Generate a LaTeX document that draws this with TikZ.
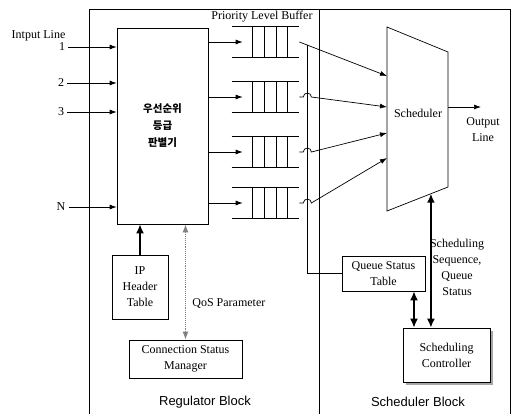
\documentclass[tikz,border=0pt]{standalone}
\usepackage{fontspec}
\setmainfont{Liberation Serif}
\newfontfamily\krfont{Noto Sans CJK KR}
\newfontfamily\blkfont{Liberation Sans}
\usetikzlibrary{arrows.meta,positioning,calc,shadows}

\tikzset{
  box/.style={draw, rectangle, fill=white, align=center, inner sep=1pt},
  flow/.style={-{Latex[length=7pt,width=5pt]}},
  heavyline/.style={line width=1.6pt},
  heavyarrow/.style={heavyline, {Latex[length=9pt,width=8pt]}-{Latex[length=9pt,width=8pt]}},
  qosarrow/.style={gray, densely dotted, line width=1.1pt, {Latex[length=8pt,width=6pt]}-{Latex[length=8pt,width=6pt]}},
  buffer/.style={minimum width=67pt, minimum height=30pt, inner sep=0pt},
  lbl/.style={inner sep=3pt, align=center}
}

\begin{document}
\begin{tikzpicture}[x=1pt, y=-1pt, font=\fontsize{12}{16}\selectfont, line width=0.7pt]
  \useasboundingbox (0,0) rectangle (514,414);

  % block frames
  \draw (89,414) |- (510,9) -- (510,414);
  \draw (319,9) -- (319,414);
  \node[font=\blkfont\fontsize{13}{15}\selectfont] (regblk) at (205,402) {Regulator Block};
  \node[font=\blkfont\fontsize{13}{15}\selectfont] (schblk) at (418,402) {Scheduler Block};

  % regulator block
  \node[box, minimum width=91pt, minimum height=196pt, font=\krfont\bfseries\fontsize{10.5}{17}\selectfont]
    (cls) at (162.5,126) {우선순위\\등급\\판별기};

  \node[lbl] (inlbl) at (38.5,36) {Intput Line};
  \node[lbl] (in1) at (62,47) {1};
  \node[lbl] (in2) at (61,83) {2};
  \node[lbl] (in3) at (61,112) {3};
  \node[lbl] (inN) at (61,207) {N};
  \foreach \n in {in1,in2,in3,inN}
    \draw[flow] (\n.east) -- (\n.east -| cls.west);

  \node[box, minimum width=56pt, minimum height=64pt] (iph) at (140,287) {IP\\Header\\Table};
  \node[box, minimum width=113pt, minimum height=38pt] (csm) at (185.5,359) {Connection Status\\Manager};
  \draw[heavyline, -{Latex[length=9pt,width=8pt]}] (iph) -- (iph |- cls.south);
  \draw[qosarrow] (csm.north |- cls.south) -- (csm.north);
  \node[anchor=west, inner sep=0pt] (qos) at (192,303) {QoS Parameter};

  % priority buffers
  \node[lbl] (buflbl) at (262,17) {Priority Level Buffer};
  \foreach \i/\y in {1/42,2/97,3/152,4/203} {
    \node[buffer] (buf\i) at (265.5,\y) {};
    \draw (buf\i.north west) -- (buf\i.north east) (buf\i.south west) -- (buf\i.south east);
    \foreach \vx in {21,33,45,56}
      \draw ([xshift=\vx pt]buf\i.north west) -- ([xshift=\vx pt]buf\i.south west);
    \draw[flow] (cls.east |- buf\i) -- ([xshift=11pt]buf\i.west);
  }

  % scheduler
  \coordinate (s-tl) at (387,27);
  \coordinate (s-tr) at (448,52);
  \coordinate (s-br) at (448,187);
  \coordinate (s-bl) at (387,211);
  \draw (s-tl) -- (s-tr) -- (s-br) -- (s-bl) -- cycle;
  \node (sched) at (418,113) {Scheduler};
  \coordinate (sin1) at (387,76);
  \coordinate (sin2) at (387,107);
  \coordinate (sin3) at (387,133);
  \coordinate (sin4) at (387,158);
  \coordinate (sout) at (448,107);
  \node[lbl] (outl) at (483,130) {Output\\Line};
  \draw[flow] (sout) -- ++(33,0);

  \draw[flow] (buf1.east) -- (sin1);
  \foreach \i in {2,3,4}
    \draw[flow] (buf\i.east) -- ++(4,0) arc[start angle=180, end angle=360, radius=4] -- (sin\i);

  \node[box, minimum width=83pt, minimum height=35pt] (qst) at (383.5,273.5) {Queue Status\\Table};
  \coordinate (bustop) at (307,45.5);
  \draw (bustop) -- (bustop |- qst.west) -- (qst.west);

  \node[box, minimum width=87pt, minimum height=54pt,
        drop shadow={shadow xshift=3pt, shadow yshift=-3pt, fill=gray!70, opacity=1}]
    (ctl) at (446.5,355) {Scheduling\\Controller};

  \coordinate (sbot) at ($(s-bl)!0.72!(s-br)$);
  \draw[heavyarrow] (sbot) -- (sbot |- ctl.north);
  \draw[heavyarrow] ([xshift=30.5pt]qst.south) -- ([xshift=30.5pt]qst.south |- ctl.north);
  \node[lbl, inner sep=0pt] (seqlbl) at (457,267) {Scheduling\\Sequence,\\Queue\\Status};

\end{tikzpicture}
\end{document}
